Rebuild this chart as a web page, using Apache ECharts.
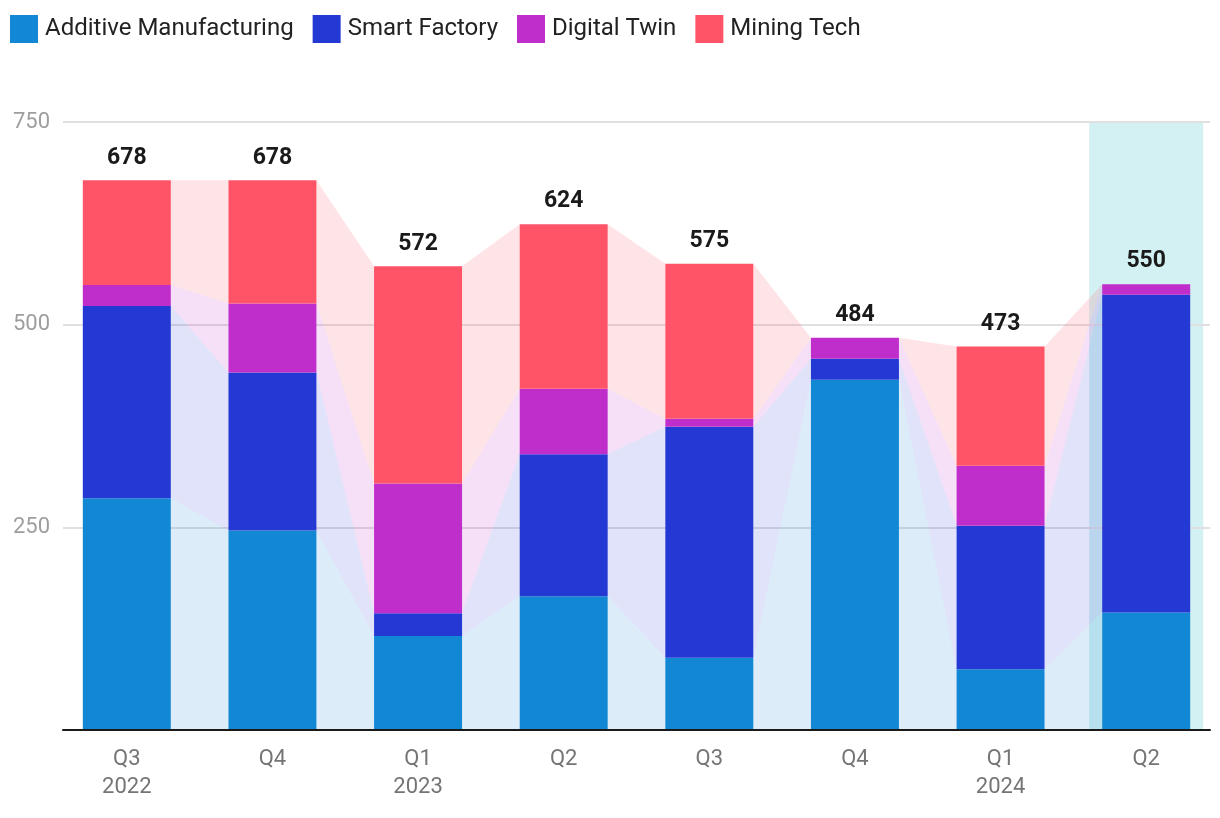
<!DOCTYPE html>
<html>
<head>
<meta charset="utf-8">
<script src="https://cdn.jsdelivr.net/npm/echarts@6/dist/echarts.min.js"></script>
<style>
html,body{margin:0;padding:0;background:#fff;}
#chart{width:1220px;height:818px;}
</style>
</head>
<body>
<div id="chart"></div>
<script>
const categories = ["Q3\n2022", "Q4", "Q1\n2023", "Q2", "Q3", "Q4", "Q1\n2024", "Q2"];
const seriesNames = ["Additive Manufacturing", "Smart Factory", "Digital Twin", "Mining Tech"];
const additiveManufacturing = [286, 246, 116, 165, 89, 432, 75, 145];
const smartFactory = [237, 195, 28, 175, 285, 26, 177, 392];
const digitalTwin = [26, 85, 160, 81, 10, 26, 74, 13];
const miningTech = [129, 152, 268, 203, 191, 0, 147, 0];
const yTicks = [0, 250, 500, 750];
const highlightIndex = 7;

const colors = ["#1287D4", "#2438D4", "#BF2ECB", "#FF5468"];
const bandColors = ["rgba(18,135,212,0.15)", "rgba(36,56,212,0.14)", "rgba(191,46,203,0.15)", "rgba(255,84,104,0.16)"];
const BAR_W = 88;
const FONT = "Roboto, 'Noto Sans', sans-serif";

const allSeries = [additiveManufacturing, smartFactory, digitalTwin, miningTech];
const bases = allSeries.map((s, k) => s.map((v, i) => {
  let b = 0; for (let j = 0; j < k; j++) b += allSeries[j][i]; return b;
}));
const totals = categories.map((c, i) => allSeries.reduce((a, s) => a + s[i], 0));

const chart = echarts.init(document.getElementById('chart'), null, {renderer: 'canvas'});

const gapData = [];
for (let i = 0; i < categories.length - 1; i++) gapData.push([i, totals[i]]);

function bandRender(k) {
  return function (params, api) {
    const i = api.value(0);
    const lowA = bases[k][i], highA = lowA + allSeries[k][i];
    const lowB = bases[k][i + 1], highB = lowB + allSeries[k][i + 1];
    const a1 = api.coord([i, highA]), a0 = api.coord([i, lowA]);
    const b1 = api.coord([i + 1, highB]), b0 = api.coord([i + 1, lowB]);
    const h = BAR_W / 2;
    return {
      type: 'polygon',
      shape: {points: [[a1[0] + h, a1[1]], [b1[0] - h, b1[1]], [b0[0] - h, b0[1]], [a0[0] + h, a0[1]]]},
      style: {fill: bandColors[k]}
    };
  };
}

const series = [];
// highlight background
series.push({
  type: 'bar', xAxisIndex: 2, yAxisIndex: 1, silent: true, z: -1,
  barWidth: 114,
  data: categories.map((c, i) => i === highlightIndex ? yTicks[yTicks.length - 1] : null),
  itemStyle: {color: '#D3F0F3'}
});
// bands
for (let k = 0; k < 4; k++) {
  series.push({
    type: 'custom', xAxisIndex: 1, yAxisIndex: 1, silent: true, z: 1,
    renderItem: bandRender(k),
    data: gapData
  });
}
// bars
for (let k = 0; k < 4; k++) {
  series.push({
    name: seriesNames[k], type: 'bar', stack: 'total', xAxisIndex: 1, yAxisIndex: 1,
    barWidth: BAR_W, z: 2,
    itemStyle: {color: colors[k]},
    data: allSeries[k]
  });
}
// totals labels
series.push({
  type: 'custom', xAxisIndex: 1, yAxisIndex: 1, silent: true, z: 5,
  data: totals.map((t, i) => [i, t]),
  renderItem: function (params, api) {
    const p = api.coord([api.value(0), api.value(1)]);
    return {
      type: 'text',
      style: {
        text: String(api.value(1)), x: p[0], y: p[1] - 11,
        align: 'center', verticalAlign: 'bottom',
        font: "bold 23px " + FONT, fill: '#1a1a1a'
      }
    };
  }
});

chart.setOption({
  animation: false,
  backgroundColor: '#fff',
  legend: {
    left: 5, top: 10, itemWidth: 28, itemHeight: 28, itemGap: 19,
    icon: 'rect',
    data: seriesNames,
    textStyle: {fontFamily: FONT, fontSize: 24, color: '#222', padding: [0, 0, 0, 2]}
  },
  grid: [
    {left: 63, right: 10, top: 122, bottom: 88},
    {left: 54, right: 1, top: 122, bottom: 88}
  ],
  xAxis: [
    {type: 'category', gridIndex: 0, data: categories, z: 10,
     axisLine: {show: true, lineStyle: {color: '#1a1a1a', width: 2}},
     axisTick: {show: false}, axisLabel: {show: false}, splitLine: {show: false}},
    {type: 'category', gridIndex: 1, data: categories,
     axisLine: {show: false}, axisTick: {show: false},
     axisLabel: {margin: 15, fontFamily: FONT, fontSize: 22, color: '#757575', lineHeight: 28}},
    {type: 'category', gridIndex: 1, data: categories, show: false}
  ],
  yAxis: [
    {type: 'value', gridIndex: 0, min: 0, max: 750, interval: 250,
     axisLine: {show: false}, axisTick: {show: false},
     axisLabel: {margin: 13, fontFamily: FONT, fontSize: 22, color: '#9E9E9E',
       formatter: v => v === 0 ? '' : String(v)},
     splitLine: {lineStyle: {color: '#E0E0E0', width: 2}}},
    {type: 'value', gridIndex: 1, min: 0, max: 750, interval: 250, show: false,
     splitLine: {show: false}}
  ],
  series: series
});
</script>
</body>
</html>
